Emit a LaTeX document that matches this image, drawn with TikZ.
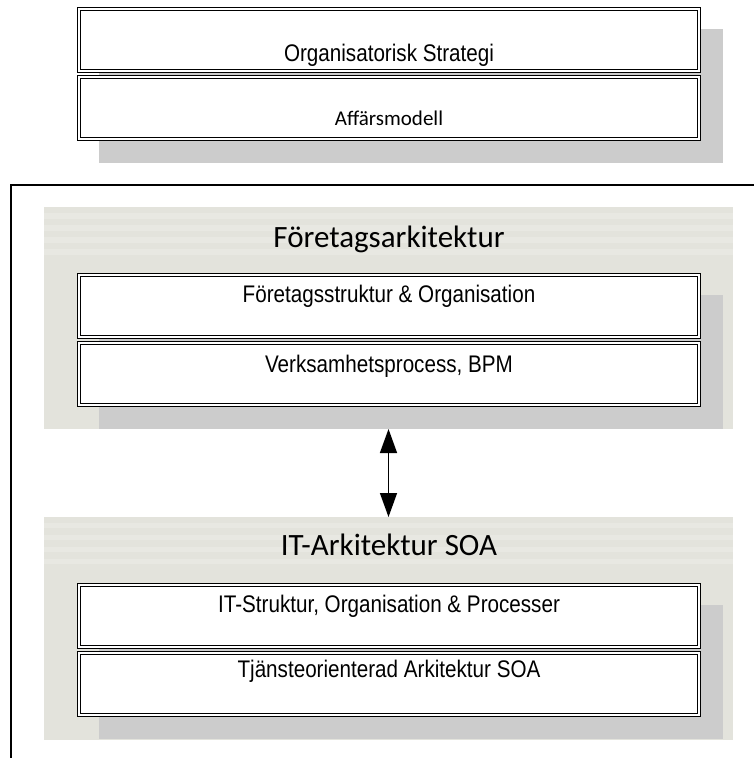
\documentclass[tikz,border=0pt]{standalone}
\usepackage{fontspec}
\newfontfamily\arialfont{Liberation Sans}[FakeStretch=0.86]
\newfontfamily\calfont{Carlito}
\usetikzlibrary{arrows.meta}

\definecolor{bandgray}{RGB}{227,227,220}
\definecolor{stripegray}{RGB}{232,232,226}
\definecolor{shadowgray}{RGB}{204,204,204}

\begin{document}
\begin{tikzpicture}[x=1pt, y=-1pt,
    layerbox/.style={minimum width=620pt, minimum height=62pt, inner sep=0pt, outer sep=0pt, anchor=north west},
    layerline/.style={draw, double, double distance=1.6pt, line width=0.9pt, fill=white},
    bandbox/.style={fill=bandgray, minimum width=689pt, inner sep=0pt, outer sep=0pt, anchor=north west},
    boxtext/.style={font=\arialfont\fontsize{24}{28}\selectfont, anchor=base, inner sep=0pt},
    titletext/.style={font=\calfont\fontsize{31}{36}\selectfont, anchor=base, inner sep=0pt}]
      \useasboundingbox (0,0) rectangle (754,758);

      % Bands
      \node[bandbox, minimum height=222pt] (fa) at (44,207) {};
      \node[bandbox, minimum height=223pt] (it) at (44,517) {};
      \foreach \s in {6pt,18pt,30pt,42pt} {
        \fill[stripegray] ([yshift=-\s]fa.north west) rectangle ([yshift=-\s-6pt]fa.north east);
        \fill[stripegray] ([yshift=-\s]it.north west) rectangle ([yshift=-\s-5pt]it.north east);
      }

      % Layers
      \node[layerbox] (org) at (79,9) {};
      \node[layerbox] (aff) at (79,77) {};
      \node[layerbox] (fs) at (79,275) {};
      \node[layerbox] (vp) at (79,343) {};
      \node[layerbox] (its) at (79,585) {};
      \node[layerbox] (soa) at (79,653) {};

      % Shadows, then the double frames
      \fill[shadowgray] ([shift={(20pt,-20pt)}]org.north west) rectangle ([shift={(24pt,-24pt)}]aff.south east);
      \fill[shadowgray] ([shift={(20pt,-20pt)}]fs.north west) rectangle ([shift={(24pt,-24pt)}]vp.south east);
      \fill[shadowgray] ([shift={(20pt,-20pt)}]its.north west) rectangle ([shift={(24pt,-24pt)}]soa.south east);
      \foreach \b in {org,aff,fs,vp,its,soa}
        \draw[layerline] (\b.north west) rectangle (\b.south east);

      % Texts
      \node[boxtext] (orgT) at (389,61) {Organisatorisk Strategi};
      \node[font=\calfont\fontsize{21}{25}\selectfont, anchor=base, inner sep=0pt] (affT) at (389,125) {Affärsmodell};
      \node[titletext] (faT) at (389,247) {Företagsarkitektur};
      \node[boxtext] (fsT) at (389,302) {Företagsstruktur \& Organisation};
      \node[boxtext] (vpT) at (389,372) {Verksamhetsprocess, BPM};
      \node[titletext] (itT) at (389,555) {IT-Arkitektur SOA};
      \node[boxtext] (itsT) at (389,612) {IT-Struktur, Organisation \& Processer};
      \node[boxtext] (soaT) at (389,677) {Tjänsteorienterad Arkitektur SOA};

      % Arrow and frame
      \draw[{Triangle[length=24pt,width=17pt]}-{Triangle[length=24pt,width=17pt]}, line width=1.4pt] (fa.south) -- (it.north);
      \draw[line width=1.3pt] (754,185) -- (11,185) -- (11,758);
\end{tikzpicture}
\end{document}
